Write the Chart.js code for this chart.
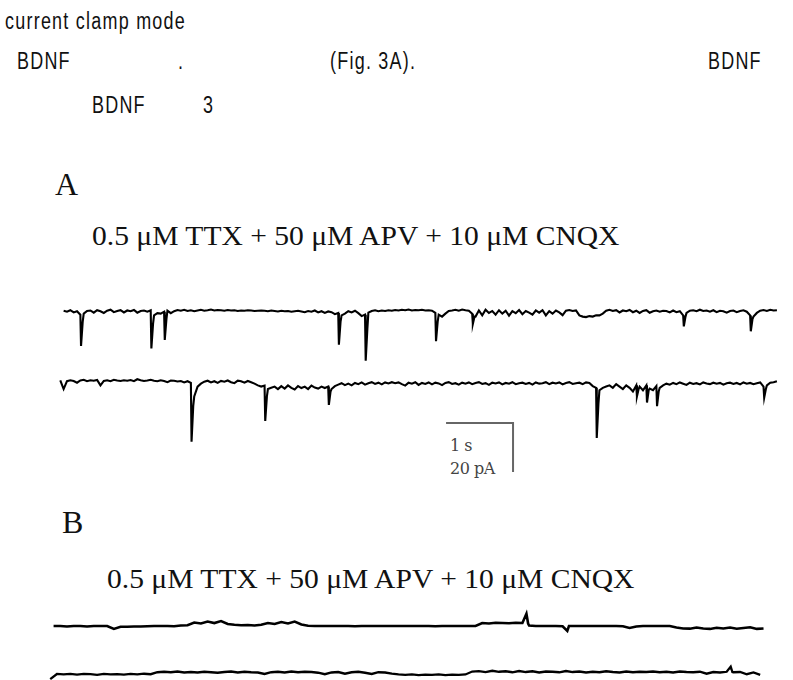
<!DOCTYPE html>
<html>
<head>
<meta charset="utf-8">
<script src="https://cdn.jsdelivr.net/npm/chart.js@4.4.0/dist/chart.umd.min.js"></script>
<style>
    html, body { margin: 0; padding: 0; background: #fff; }
    body { width: 793px; height: 680px; position: relative; overflow: hidden; }
    .t { position: absolute; white-space: nowrap; line-height: 1; color: #111; transform-origin: 0 0; }
    .sans { font-family: "Liberation Sans", Arial, sans-serif; font-size: 23px; letter-spacing: 1.6px; transform: scaleX(0.78); }
    .serif { font-family: "Liberation Serif", "Times New Roman", serif; }
    .bar { font-family: "DejaVu Serif", serif; font-size: 16px; color: #444; letter-spacing: -0.5px; }
    #wrap { position: absolute; left: 0; top: 280px; width: 793px; height: 400px; }
</style>
</head>
<body>
<div class="t sans" style="left:5px; top:10px;">current clamp mode</div>
<div class="t sans" style="left:17px; top:50px;">BDNF</div>
<div class="t sans" style="left:178px; top:50px;">.</div>
<div class="t sans" style="left:330px; top:50px;">(Fig. 3A).</div>
<div class="t sans" style="left:708px; top:50px;">BDNF</div>
<div class="t sans" style="left:92px; top:94px;">BDNF</div>
<div class="t sans" style="left:203px; top:94px;">3</div>

<div class="t serif" style="left:55px; top:168px; font-size:32px;">A</div>
<div class="t serif" style="left:92px; top:223px; font-size:27px; transform:scaleX(1.095);">0.5 μM TTX + 50 μM APV + 10 μM CNQX</div>
<div class="t bar" style="left:450px; top:438px;">1 s</div>
<div class="t bar" style="left:450px; top:461px;">20 pA</div>
<div class="t serif" style="left:62px; top:506px; font-size:32px;">B</div>
<div class="t serif" style="left:107px; top:566px; font-size:27px; transform:scaleX(1.095);">0.5 μM TTX + 50 μM APV + 10 μM CNQX</div>

<div id="wrap"><canvas id="traceChart" width="793" height="400"></canvas></div>

<script>
// sampled currents, pA relative to each trace's baseline
// panel A, sweep 1: every 0.05 s from 0.05 s
const aOneStart = 0.05;
const aOneStep = 0.05;
const aOneValues = [
    0.4, 0, 0.6, -0.3, 0.2, -1.2, -0.8, 0.3, 0.5, -0.4, 0.6, 0.2, -0.5, 0.4, 0.8, -0.2, 0.3, 0.6, -0.3, 0.5,
    0.2, 0.7, -0.4, 0.3, 0.5, 0, 0.6, -1.5, -0.6, -0.8, 0, 0.4, -0.6, 0.2, 0.7, 0.4, 0.8, 0.3, 0.6, 0.2,
    0.5, 0.8, 0.4, 0.6, 0.9, 0.5, 0.7, 0.6, 0.4, 0.7, 0.5, 0.6, 0.3, 0.5, 0.4, 0.6, 0.5, 0.3, 0.4, 0.5,
    0.4, 0.2, 0.5, 0.3, 0.1, 0.4, 0.2, 0.3, 0, 0.2, 0.4, 0.1, -0.2, 0.3, 0, 0.5, -0.3, 0.2, -0.5, 0.1,
    -0.2, -1, -0.5, -1.5, -0.8, 0.2, -0.3, 0.4, -0.6, -1.8, -1.2, -0.4, 0.3, 0.6, 0.2, 0.5, 0.3, 0.6, 0.4, 0.7,
    0.5, 0.8, 0.6, 0.9, 0.5, 0.7, 0.6, 0.8, 0.5, 0.6, 0.4, -0.5, -1.2, -2, -0.8, 0.3, 0.5, 0.8, 0.4, 0.9,
    0.6, 0.4, -0.8, -2, 0.5, -1.5, 0.8, -0.5, 0.3, -1.2, 0.6, -0.8, 0.4, -1.6, 0.2, -0.6, 0.7, -1, 0.3, -0.4,
    -1.2, 0.5, -0.4, 0.6, -1.5, 0.2, -0.8, 0.5, -0.3, -1.4, 0.4, 0.7, 0.3, 0.5, -1.5, -2, -2.2, -1.8, -2, -1.5,
    -1.5, -0.8, 0.4, 0.8, 0.3, 0.6, -0.3, 0.5, 0.2, 0.7, -0.2, 0.4, -0.5, 0.3, 0.6, -0.4, 0.2, 0.5, 0, 0.4,
    0.3, -0.3, 0.5, -0.2, 0.2, -1.5, -0.5, 0.4, 0.6, 0.2, 0.8, 0.3, 0.5, 0, 0.6, -0.2, 0.4, 0.2, -0.4, 0.3,
    0.5, -0.2, 0.3, 0.6, 0, -1.5, -2, -0.5, 0.4, 0.7, 0.3, 0.8, 0.5, 0.6
];
// miniature events: onset (s), peak (pA), value just after the peak (pA)
const aOneEventTime = [0.31, 1.36, 1.56, 4.16, 4.56, 5.61, 6.16, 9.31, 10.31];
const aOneEventPeak = [-14, -15, -11.5, -13.5, -20, -12, -5, -6, -8];
const aOneEventTail = [-4, -5, -3, -4, -7, -4, -2, -2, -3];

// panel A, sweep 2: every 0.05 s from 0 s
const aTwoStart = 0;
const aTwoStep = 0.05;
const aTwoValues = [
    0.5, -3, 0.2, 0.6, 0.3, -0.4, 0.5, 0.8, 0.2, 0.6, 0.4, 0.7, -1.5, 0.3, 0.6, 0.2, 0.8, 0.5, 0.3, 0.6,
    0.4, 0.7, 0.2, 1, 0.6, 0.3, 0.5, 0.8, 0.4, 0.2, 0.6, 0.3, -0.2, 0.5, 0.4, 0.1, 0.3, -0.3, 0.2, -0.5,
    -6, -2, -0.8, 0, 0.4, -0.3, 0.2, -0.5, 0.3, 0, 0.5, -0.2, -0.6, 0.4, 0.2, -0.4, 0.3, -0.2, -0.8, -1.5,
    -2, -1.6, -3, -2.5, -2, -3, -1.8, -2.8, -1.5, -2.5, -3.2, -1.8, -2.6, -2, -3, -1.6, -2.4, -2.8, -2, -2.6,
    -2, -3, -1.8, -1.2, -0.6, -1.4, -0.8, -1.5, -0.5, -1, -0.3, -1.2, -0.6, -0.2, -0.9, -0.4, -1.1, -0.3, -0.7, -0.2,
    -0.6, -0.3, -1, -1.6, -0.4, -0.8, -0.2, -1.3, -0.5, -0.9, -0.3, -1.1, -0.4, -0.7, -1.4, -0.5, -0.2, -0.9, -0.6, -1.2,
    -0.4, -0.8, -0.3, -1, -0.5, -0.2, -0.9, -0.6, -1.3, -0.4, -0.7, -0.3, -1.1, -0.5, -0.8, -0.2, -1, -0.6, -0.4, -0.9,
    -0.5, -1.2, -0.3, -0.8, -0.6, -0.2, -1, -0.4, -0.7, -0.3, -1.1, -0.5, -0.2, -0.9, -0.6, -0.4, -1, -0.3, -0.5, -1.8,
    -2.5, -3.5, -2.5, -2, -1.5, -2.5, -1, -2, -3, -1.5, -2.5, -4, -1.5, -2, -3.5, -1.5, -2.8, -3.5, -1.8, -2.5,
    -1.5, -0.8, -1.2, -0.5, -1, -0.3, -0.8, -1.3, -0.4, -0.9, -0.6, -1.1, -0.3, -0.7, -1, -0.4, -0.8, -0.5, -1.2, -0.6,
    -0.4, -0.9, -0.5, -1.1, -0.3, -0.8, -0.5, -1, -0.6, -0.3, -2, -1.5, -0.4, -0.2, 0.2
];
const aTwoEventTime = [1.96, 3.06, 4.01, 8.01, 8.61, 8.76, 8.91, 10.51];
const aTwoEventPeak = [-24.5, -16, -9.5, -23, -6, -8.5, -10, -6.5];
const aTwoEventTail = [-10, -6, -4, -9, -3, -3.5, -4, -3];

// panel B, sweep 1: every 0.1 s from -0.1 s
const bOneStart = -0.1;
const bOneStep = 0.1;
const bOneValues = [
    0, 0, -0.2, 0, 0, -0.2, 0, 0, 0, -1.2, -0.3,
    -0.3, -0.2, -0.2, -0.1, 0, 0, 0, -0.1, 0.2, 0.3,
    1.4, 1, 1.8, 1.2, 2, 0.8, 0.5, 0.3, 0.4, 0.2,
    0.5, 1.2, 0.8, 1.6, 1, 1.8, 0.6, 0.1, 0, 0,
    0, 0, 0, 0, -0.1, 0, 0, 0, 0, 0,
    0, 0, 0, 0, 0, 0, -0.1, 0, 0, 0,
    0, 0, 0, 1.2, 1, 1.3, 1.2, 1.1, 1.3, 1.2,
    0.2, 0, 0, 0, 0, -0.1, 0, 0, 0, 0,
    0, 0, 0, 0, -0.1, -0.8, -0.2, 0, 0, 0,
    0, 0, -0.6, -1, -1.1, -0.6, -1, -1.2, -0.7, -1,
    -0.6, -1.1, -0.8, -0.5, -1.2, -1
];
const bOneEventTime = [6.96, 7.57];
const bOneEventPeak = [5, -2];
const bOneEventTail = [1, 0];

// panel B, sweep 2: every 0.1 s from -0.15 s
const bTwoStart = -0.15;
const bTwoStep = 0.1;
const bTwoValues = [
    -2.5, -0.4, -0.6, -0.4, -0.7, -0.4, -0.5, -0.8, -0.4, -0.6, -0.5,
    -0.7, -0.4, -0.6, -0.3, -0.5, 0.3, 0.5, 0.3, 0.6, 0.2,
    0.4, 0.2, 0.5, 0.3, 0.1, 0.4, 0.6, 0.2, 0.5, 0.3,
    0.2, -0.4, 0.3, 0.5, 0.2, 0.6, 0.3, 0.5, 0.4, 0.1,
    -0.5, 0.2, 0.4, -0.3, 0.3, 0.5, 0.1, -0.4, 0.3, 0.2,
    -0.3, -0.6, -0.8, -0.6, -0.9, -0.7, -0.8, -0.6, -0.9, -0.7,
    -0.8, -0.6, 0.6, 0.8, 0.4, 0.9, 0.5, 0.7, 0.3, 0.8,
    0.4, 0.7, 0.2, 0.6, 0.5, 0.3, 0.8, 0.4, 0.6, 0.2,
    0.5, 0.3, 0.7, 0.4, 0.2, 0.6, 0.3, 0.5, 0.4, 0.6,
    0.3, 0.5, 0.2, 0.6, 0.4, 0.3, 0.5, -0.3, 0.4, 0.2,
    0.5, 0.3, 0.4, -0.5, 0.2, -0.8
];
const bTwoEventTime = [10.01];
const bTwoEventPeak = [2.6];
const bTwoEventTail = [0.4];

// calibration bar: 1 s by 20 pA
const barTime = [0, 1, 1];
const barCurrent = [0, 0, -20];

// layout: where each sweep sits on the shared pA axis
const offsets = { aOne: -12.94, aTwo: -41.51, bOne: -141.22, bTwo: -160.41, bar: -58.37 };
const barStartTime = 5.76;

function buildTrace(start, step, values, evTime, evPeak, evTail, offset) {
    const pts = values.map((v, i) => ({ x: start + i * step, y: v + offset }));
    evTime.forEach((t, k) => {
        pts.push({ x: t, y: evPeak[k] + offset });
        pts.push({ x: t + 0.025, y: evTail[k] + offset });
    });
    pts.sort((a, b) => a.x - b.x);
    return pts;
}

function traceSet(data, width) {
    return {
        data: data,
        borderColor: '#000',
        borderWidth: width,
        pointRadius: 0,
        tension: 0,
        fill: false,
        clip: false
    };
}

const barPoints = barTime.map((t, i) => ({ x: barStartTime + t, y: barCurrent[i] + offsets.bar }));

new Chart(document.getElementById('traceChart').getContext('2d'), {
    type: 'line',
    data: {
        datasets: [
            traceSet(buildTrace(aOneStart, aOneStep, aOneValues, aOneEventTime, aOneEventPeak, aOneEventTail, offsets.aOne), 2.1),
            traceSet(buildTrace(aTwoStart, aTwoStep, aTwoValues, aTwoEventTime, aTwoEventPeak, aTwoEventTail, offsets.aTwo), 2.1),
            traceSet(buildTrace(bOneStart, bOneStep, bOneValues, bOneEventTime, bOneEventPeak, bOneEventTail, offsets.bOne), 2.6),
            traceSet(buildTrace(bTwoStart, bTwoStep, bTwoValues, bTwoEventTime, bTwoEventPeak, bTwoEventTail, offsets.bTwo), 2.3),
            {
                data: barPoints,
                borderColor: '#666',
                borderWidth: 2,
                pointRadius: 0,
                tension: 0,
                fill: false,
                borderJoinStyle: 'miter'
            }
        ]
    },
    options: {
        responsive: false,
        animation: false,
        devicePixelRatio: 1,
        layout: { padding: 0 },
        plugins: { legend: { display: false }, tooltip: { enabled: false } },
        scales: {
            x: { type: 'linear', display: false, min: -0.9, max: 10.94 },
            y: { display: false, min: -163.27, max: 0 }
        }
    }
});
</script>
</body>
</html>
